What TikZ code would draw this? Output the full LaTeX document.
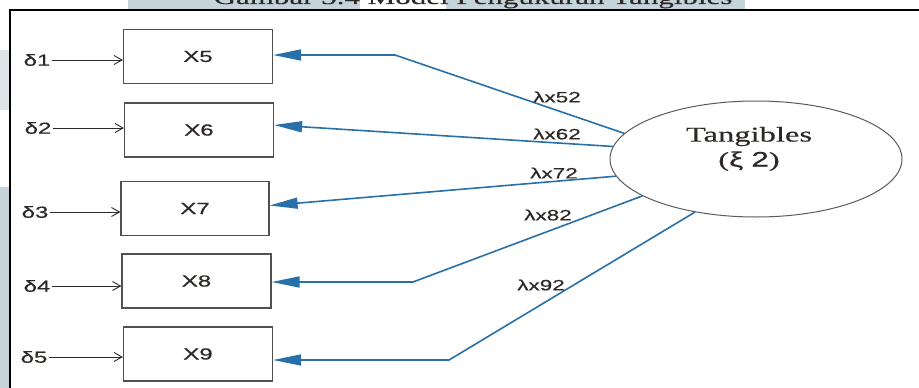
\documentclass[tikz,border=0pt]{standalone}
\usepackage{fontspec}
\setmainfont{Liberation Serif}
\newfontfamily\sansw[FakeStretch=1.5,FakeBold=0.6]{Liberation Sans}
\newfontfamily\serifw[FakeStretch=1.55,FakeBold=0.4]{Liberation Serif}
\usetikzlibrary{arrows.meta,shapes.geometric}
\definecolor{lblue}{RGB}{40,112,170}
\definecolor{bandc}{RGB}{197,212,219}
\definecolor{bandl}{RGB}{222,229,232}
\definecolor{txtc}{RGB}{45,40,38}
\definecolor{boxc}{RGB}{80,80,80}
\definecolor{ellc}{RGB}{90,90,90}
\tikzset{
  obs/.style={draw=boxc, line width=1.2pt, minimum width=149pt, minimum height=54pt, inner sep=0pt,
    font=\sansw\fontsize{16}{18}\selectfont, text=txtc},
  errlbl/.style={inner sep=1pt, font=\sansw\fontsize{16}{18}\selectfont, text=txtc},
  lamlbl/.style={inner sep=0pt, font=\sansw\fontsize{15}{17}\selectfont, text=txtc},
  errarrow/.style={draw=txtc, line width=0.9pt, -{Straight Barb[length=8pt,width=9pt]}},
  load/.style={draw=lblue, line width=1.6pt, -{Triangle[length=28pt,width=11pt]}},
  latent/.style={ellipse, draw=ellc, line width=1pt, minimum width=292pt, minimum height=116pt, inner sep=0pt}
}
\begin{document}
\begin{tikzpicture}[x=1pt,y=-1pt]
\useasboundingbox (0,0) rectangle (919,388);
\clip (0,0) rectangle (919,388);
% background scraps
\fill[bandc] (128,0) rectangle (360,9);
\fill[bandc] (446,0) rectangle (745,9);
\fill[bandl] (0,50) rectangle (9,110);
\fill[bandc] (0,187) rectangle (9,388);
\node[anchor=base, inner sep=0pt, font=\serifw\fontsize{20}{22}\selectfont, text=txtc] (title) at (473,4) {Gambar 3.4 Model Pengukuran Tangibles};
% frame
\draw[line width=2pt, black] (10,388) -- (10,10) -- (919,10);

% observed boxes
\node[obs] (x5) at (198,56.5) {X5};
\node[obs] (x6) at (199,130) {X6};
\node[obs, minimum width=148pt] (x7) at (195,208.5) {X7};
\node[obs] (x8) at (196.5,281) {X8};
\node[obs] (x9) at (198,354) {X9};

% error terms
\node[errlbl] (d1) at (37,60) {δ1};
\node[errlbl] (d2) at (38,128) {δ2};
\node[errlbl] (d3) at (35,212) {δ3};
\node[errlbl] (d4) at (37,286) {δ4};
\node[errlbl] (d5) at (34,357) {δ5};
\draw[errarrow] (d1) -- (d1 -| x5.west);
\draw[errarrow] (d2) -- (d2 -| x6.west);
\draw[errarrow] (d3) -- (d3 -| x7.west);
\draw[errarrow] (d4) -- (d4 -| x8.west);
\draw[errarrow] (d5) -- (d5 -| x9.west);

% latent
\node[latent] (tang) at (756,159) {};
\node[align=center, inner sep=0pt, font=\serifw\fontsize{21}{25}\selectfont, text=txtc] (tangtxt) at (749,149) {Tangibles\\({\sansw ξ} {\sansw 2})};

% bends
\coordinate (b1) at (395,55);
\coordinate (b4) at (413,282);
\coordinate (b5) at (449,360);

% loadings
\draw[load] (tang.169.6) -- (b1) -- (b1 -| x5.east);
\draw[load] (tang.175.7) -- ([yshift=5pt]x6.east);
\draw[load] (tang.187.7) -- ([yshift=3pt]x7.east);
\draw[load] (tang.198.1) -- (b4) -- (b4 -| x8.east);
\draw[load] (tang.221.9) -- (b5) -- (b5 -| x9.east);

% loading labels
\node[lamlbl] (l52) at (557,97) {λx52};
\node[lamlbl] (l62) at (557,134) {λx62};
\node[lamlbl] (l72) at (554,173) {λx72};
\node[lamlbl] (l82) at (548,215) {λx82};
\node[lamlbl] (l92) at (541,285) {λx92};
\end{tikzpicture}
\end{document}
